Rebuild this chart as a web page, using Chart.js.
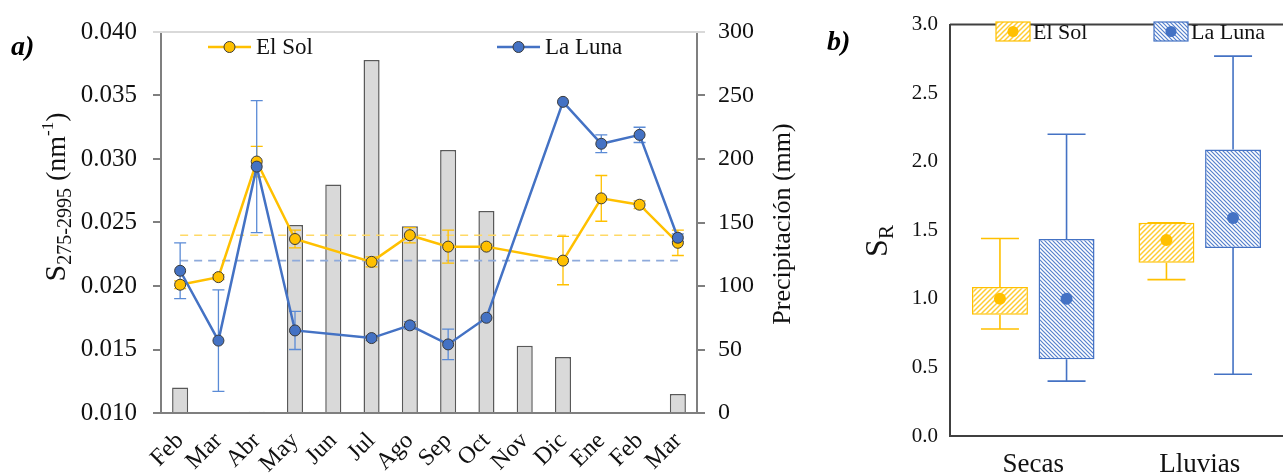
<!DOCTYPE html>
<html>
<head>
<meta charset="utf-8">
<script src="https://cdn.jsdelivr.net/npm/chart.js@4.4.1/dist/chart.umd.min.js"></script>
<style>
  html, body { margin: 0; padding: 0; background: #fff; }
  #wrap { position: relative; width: 1283px; height: 474px; overflow: hidden; }
  #cA { position: absolute; left: 0; top: 0; }
  #cB { position: absolute; left: 800px; top: 0; }
</style>
</head>
<body>
<div id="wrap">
  <canvas id="cA" width="800" height="474"></canvas>
  <canvas id="cB" width="483" height="474"></canvas>
</div>
<script>
// ---------- panel a: monthly spectral slope and rainfall ----------
const months = ['Feb', 'Mar', 'Abr', 'May', 'Jun', 'Jul', 'Ago', 'Sep', 'Oct', 'Nov', 'Dic', 'Ene', 'Feb', 'Mar'];
const precipitacion = [20, 0, 1, 148, 180, 278, 147, 207, 159, 53, 44, 0, 0, 15];
const solS    = [0.0201, 0.0207, 0.0298, 0.0237, null, 0.0219, 0.0240, 0.0231, 0.0231, null, 0.0220, 0.0269, 0.0264, 0.0234];
const solErr  = [0.0003, 0.0002, 0.0012, 0.0007, null, 0.0004, 0.0006, 0.0013, 0.0002, null, 0.0019, 0.0018, 0.0003, 0.0010];
const lunaS   = [0.0212, 0.0157, 0.0294, 0.0165, null, 0.0159, 0.0169, 0.0154, 0.0175, null, 0.0345, 0.0312, 0.0319, 0.0238];
const lunaErr = [0.0022, 0.0040, 0.0052, 0.0015, null, 0.0002, 0.0003, 0.0012, 0, null, 0, 0.0007, 0.0006, 0.0003];
const solMean = 0.0240;
const lunaMean = 0.0220;
const sTicks = [0.010, 0.015, 0.020, 0.025, 0.030, 0.035, 0.040];
const pTicks = [0, 50, 100, 150, 200, 250, 300];

// ---------- panel b: S_R by season ----------
const periodos = ['Secas', 'Lluvias'];
const solQ1 = [0.884, 1.264];
const solQ3 = [1.086, 1.555];
const solMin = [0.78, 1.14];
const solMax = [1.44, 1.555];
const solMedia = [1.00, 1.43];
const lunaQ1 = [0.559, 1.371];
const lunaQ3 = [1.436, 2.09];
const lunaMin = [0.40, 0.45];
const lunaMax = [2.20, 2.77];
const lunaMedia = [1.00, 1.59];
const srTicks = [0, 0.5, 1.0, 1.5, 2.0, 2.5, 3.0];

const SERIF = "'Liberation Serif', 'Times New Roman', serif";
const YELLOW = '#ffc000';
const BLUE = '#4472c4';
const AXIS = '#7f7f7f';
Chart.defaults.font.family = SERIF;
Chart.defaults.color = '#111';

// draws a run of text segments rotated -90deg, centred on (cx, cy); cx is the baseline
function drawRotatedRich(ctx, segs, cx, cy) {
  let total = 0;
  segs.forEach(s => { ctx.font = s.font; s.w = ctx.measureText(s.t).width; total += s.w; });
  ctx.save();
  ctx.translate(cx, cy);
  ctx.rotate(-Math.PI / 2);
  ctx.textBaseline = 'alphabetic';
  ctx.textAlign = 'left';
  ctx.fillStyle = '#111';
  let x = -total / 2;
  segs.forEach(s => { ctx.font = s.font; ctx.fillText(s.t, x, s.dy || 0); x += s.w; });
  ctx.restore();
}

// mean lines + error bars, painted above the rain bars and below the lines
const errorBarsA = {
  id: 'errorBarsA',
  beforeDatasetsDraw(chart) {
    const { ctx, chartArea: ca } = chart;
    ctx.save();
    ctx.strokeStyle = '#d9d9d9';
    ctx.lineWidth = 2;
    ctx.beginPath();
    ctx.moveTo(ca.left - 8, ca.top);
    ctx.lineTo(ca.right + 8, ca.top);
    ctx.stroke();
    ctx.restore();
  },
  afterDatasetDraw(chart, args) {
    if (args.index !== 0) return;
    const { ctx, scales: { x, y } } = chart;
    ctx.save();
    const x0 = x.getPixelForValue(0);
    const x1 = x.getPixelForValue(months.length - 1);
    [[solMean, '#ffd966'], [lunaMean, '#8eaadb']].forEach(([v, c]) => {
      const py = y.getPixelForValue(v);
      ctx.strokeStyle = c;
      ctx.lineWidth = 1.6;
      ctx.setLineDash([8, 6]);
      ctx.beginPath();
      ctx.moveTo(x0, py);
      ctx.lineTo(x1, py);
      ctx.stroke();
    });
    ctx.setLineDash([]);
    const series = [[solS, solErr, YELLOW], [lunaS, lunaErr, '#5b8bd6']];
    series.forEach(([vals, errs, col]) => {
      ctx.strokeStyle = col;
      ctx.lineWidth = 1.3;
      vals.forEach((v, i) => {
        if (v === null || !errs[i]) return;
        const px = x.getPixelForValue(i);
        const top = y.getPixelForValue(v + errs[i]);
        const bot = y.getPixelForValue(v - errs[i]);
        ctx.beginPath();
        ctx.moveTo(px, top); ctx.lineTo(px, bot);
        ctx.moveTo(px - 6, top); ctx.lineTo(px + 6, top);
        ctx.moveTo(px - 6, bot); ctx.lineTo(px + 6, bot);
        ctx.stroke();
      });
    });
    ctx.restore();
  },
  afterDraw(chart) {
    const { ctx } = chart;
    ctx.save();
    // panel tag
    ctx.fillStyle = '#000';
    ctx.font = `italic bold 28px ${SERIF}`;
    ctx.textBaseline = 'alphabetic';
    ctx.fillText('a)', 11, 55);
    // legend
    const items = [['El Sol', YELLOW, 208], ['La Luna', BLUE, 497]];
    items.forEach(([name, col, lx]) => {
      const ly = 47;
      ctx.strokeStyle = col;
      ctx.lineWidth = 2.5;
      ctx.beginPath(); ctx.moveTo(lx, ly); ctx.lineTo(lx + 43, ly); ctx.stroke();
      ctx.fillStyle = col;
      ctx.strokeStyle = '#3a3a3a';
      ctx.lineWidth = 1;
      ctx.beginPath(); ctx.arc(lx + 21.5, ly, 5.5, 0, Math.PI * 2); ctx.fill(); ctx.stroke();
      ctx.fillStyle = '#111';
      ctx.font = `23px ${SERIF}`;
      ctx.textBaseline = 'middle';
      ctx.fillText(name, lx + 48, ly + 1);
    });
    ctx.restore();
    // axis titles
    drawRotatedRich(ctx, [
      { t: 'S', font: `30px ${SERIF}` },
      { t: '275-2995', font: `20px ${SERIF}`, dy: 6 },
      { t: ' (nm', font: `28px ${SERIF}` },
      { t: '-1', font: `17px ${SERIF}`, dy: -12 },
      { t: ')', font: `28px ${SERIF}` }
    ], 65, 197);
    drawRotatedRich(ctx, [{ t: 'Precipitación (mm)', font: `26px ${SERIF}` }], 790, 224);
  }
};

new Chart(document.getElementById('cA'), {
  data: {
    labels: months,
    datasets: [
      {
        type: 'bar', label: 'Precipitación', data: precipitacion, yAxisID: 'y1', order: 3,
        backgroundColor: '#d9d9d9', borderColor: '#595959', borderWidth: 1.5,
        categoryPercentage: 1, barPercentage: 0.42
      },
      {
        type: 'line', label: 'El Sol', data: solS, yAxisID: 'y', order: 1, spanGaps: true,
        borderColor: YELLOW, borderWidth: 2.5, tension: 0,
        pointRadius: 5.5, pointBackgroundColor: YELLOW, pointBorderColor: '#3a3a3a', pointBorderWidth: 1
      },
      {
        type: 'line', label: 'La Luna', data: lunaS, yAxisID: 'y', order: 0, spanGaps: true,
        borderColor: BLUE, borderWidth: 2.5, tension: 0,
        pointRadius: 5.5, pointBackgroundColor: BLUE, pointBorderColor: '#3a3a3a', pointBorderWidth: 1
      }
    ]
  },
  options: {
    responsive: false,
    animation: false,
    events: [],
    layout: { padding: { top: 32, left: 0, right: 0, bottom: 0 } },
    plugins: { legend: { display: false }, tooltip: { enabled: false } },
    scales: {
      x: {
        type: 'category', offset: true,
        grid: { display: false, drawTicks: false },
        border: { display: true, color: AXIS, width: 2 },
        ticks: { autoSkip: false, maxRotation: 45, minRotation: 45, padding: 14, font: { size: 24 }, color: '#111' },
        afterFit: s => { s.height = 61; }
      },
      y: {
        type: 'linear', position: 'left', min: 0.010, max: 0.040,
        afterBuildTicks: s => { s.ticks = sTicks.map(v => ({ value: v })); },
        grid: { display: true, drawOnChartArea: false, drawTicks: true, tickLength: 8, color: AXIS, lineWidth: 2 },
        border: { display: true, color: AXIS, width: 2 },
        ticks: { padding: 16, font: { size: 25 }, color: '#111', callback: v => v.toFixed(3) },
        afterFit: s => { s.width = 161; }
      },
      y1: {
        type: 'linear', position: 'right', min: 0, max: 300,
        afterBuildTicks: s => { s.ticks = pTicks.map(v => ({ value: v })); },
        grid: { display: true, drawOnChartArea: false, drawTicks: true, tickLength: 8, color: AXIS, lineWidth: 2 },
        border: { display: true, color: AXIS, width: 2 },
        ticks: { padding: 13, font: { size: 24 }, color: '#111', callback: v => String(v) },
        afterFit: s => { s.width = 103; }
      }
    }
  },
  plugins: [errorBarsA]
});

// ---------- panel b ----------
const ctxB = document.getElementById('cB').getContext('2d');
function hatch(color, forward, size, lw) {
  const c = document.createElement('canvas');
  c.width = c.height = size;
  const g = c.getContext('2d');
  g.fillStyle = '#fff';
  g.fillRect(0, 0, size, size);
  g.strokeStyle = color;
  g.lineWidth = lw;
  g.beginPath();
  if (forward) {
    g.moveTo(0, size); g.lineTo(size, 0);
    g.moveTo(-1, 1); g.lineTo(1, -1);
    g.moveTo(size - 1, size + 1); g.lineTo(size + 1, size - 1);
  } else {
    g.moveTo(0, 0); g.lineTo(size, size);
    g.moveTo(-1, size - 1); g.lineTo(1, size + 1);
    g.moveTo(size - 1, -1); g.lineTo(size + 1, 1);
  }
  g.stroke();
  return ctxB.createPattern(c, 'repeat');
}
const solHatch = hatch('#ffcc33', true, 5, 1.5);
const lunaHatch = hatch('#5580cc', false, 4, 1.2);

const boxPlotB = {
  id: 'boxPlotB',
  afterDatasetsDraw(chart) {
    const { ctx, chartArea: ca, scales: { y } } = chart;
    ctx.save();
    // closing line along the top of the frame
    ctx.strokeStyle = '#404040';
    ctx.lineWidth = 2;
    ctx.beginPath(); ctx.moveTo(ca.left, ca.top); ctx.lineTo(ca.right, ca.top); ctx.stroke();
    const groups = [
      [0, solQ1, solQ3, solMin, solMax, solMedia, YELLOW],
      [1, lunaQ1, lunaQ3, lunaMin, lunaMax, lunaMedia, BLUE]
    ];
    groups.forEach(([di, q1, q3, lo, hi, mean, col]) => {
      const meta = chart.getDatasetMeta(di);
      meta.data.forEach((bar, i) => {
        const px = bar.x;
        ctx.strokeStyle = col;
        ctx.lineWidth = 1.6;
        const yLo = y.getPixelForValue(lo[i]), yQ1 = y.getPixelForValue(q1[i]);
        const yQ3 = y.getPixelForValue(q3[i]), yHi = y.getPixelForValue(hi[i]);
        ctx.beginPath();
        ctx.moveTo(px, yQ1); ctx.lineTo(px, yLo);
        ctx.moveTo(px - 19, yLo); ctx.lineTo(px + 19, yLo);
        ctx.moveTo(px, yQ3); ctx.lineTo(px, yHi);
        ctx.moveTo(px - 19, yHi); ctx.lineTo(px + 19, yHi);
        ctx.stroke();
        ctx.fillStyle = col;
        ctx.beginPath(); ctx.arc(px, y.getPixelForValue(mean[i]), 6, 0, Math.PI * 2); ctx.fill();
      });
    });
    // legend
    const leg = [['El Sol', solHatch, YELLOW, 196], ['La Luna', lunaHatch, BLUE, 354]];
    leg.forEach(([name, pat, col, lx]) => {
      ctx.fillStyle = pat;
      ctx.fillRect(lx, 22, 34, 19);
      ctx.strokeStyle = col;
      ctx.lineWidth = 1.2;
      ctx.strokeRect(lx, 22, 34, 19);
      ctx.fillStyle = col;
      ctx.beginPath(); ctx.arc(lx + 17, 31.5, 5.5, 0, Math.PI * 2); ctx.fill();
      ctx.fillStyle = '#111';
      ctx.font = `22px ${SERIF}`;
      ctx.textBaseline = 'middle';
      ctx.textAlign = 'left';
      ctx.fillText(name, lx + 37, 33);
    });
    // panel tag
    ctx.fillStyle = '#000';
    ctx.font = `italic bold 28px ${SERIF}`;
    ctx.textBaseline = 'alphabetic';
    ctx.fillText('b)', 27, 50);
    ctx.restore();
    drawRotatedRich(ctx, [
      { t: 'S', font: `32px ${SERIF}` },
      { t: 'R', font: `21px ${SERIF}`, dy: 6 }
    ], 87, 241);
  }
};

new Chart(ctxB, {
  type: 'bar',
  data: {
    labels: periodos,
    datasets: [
      {
        label: 'El Sol', data: periodos.map((p, i) => [solQ1[i], solQ3[i]]),
        backgroundColor: solHatch, borderColor: YELLOW, borderWidth: 1.5, borderSkipped: false,
        categoryPercentage: 0.8, barPercentage: 0.84
      },
      {
        label: 'La Luna', data: periodos.map((p, i) => [lunaQ1[i], lunaQ3[i]]),
        backgroundColor: lunaHatch, borderColor: BLUE, borderWidth: 1.5, borderSkipped: false,
        categoryPercentage: 0.8, barPercentage: 0.84
      }
    ]
  },
  options: {
    responsive: false,
    animation: false,
    events: [],
    layout: { padding: { top: 16, left: 0, right: 0, bottom: 0 } },
    plugins: { legend: { display: false }, tooltip: { enabled: false } },
    scales: {
      x: {
        grid: { display: false, drawTicks: false },
        border: { display: true, color: '#404040', width: 2 },
        ticks: { padding: 13, font: { size: 27 }, color: '#111' },
        afterFit: s => { s.height = 38; }
      },
      y: {
        min: 0, max: 3,
        afterBuildTicks: s => { s.ticks = srTicks.map(v => ({ value: v })); },
        grid: { display: false, drawTicks: false },
        border: { display: true, color: '#404040', width: 2 },
        ticks: { padding: 12, font: { size: 21 }, color: '#111', callback: v => v.toFixed(1) },
        afterFit: s => { s.width = 150; }
      }
    }
  },
  plugins: [boxPlotB]
});
</script>
</body>
</html>
